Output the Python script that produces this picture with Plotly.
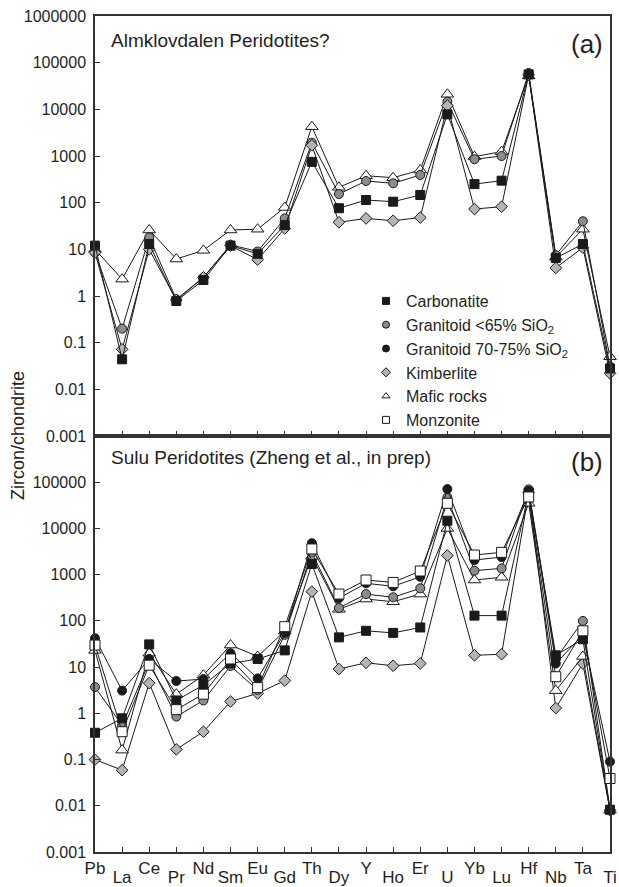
import plotly.graph_objects as go

elements = ["Pb", "La", "Ce", "Pr", "Nd", "Sm", "Eu", "Gd", "Th", "Dy",
            "Y", "Ho", "Er", "U", "Yb", "Lu", "Hf", "Nb", "Ta", "Ti"]

# Panel (a): Almklovdalen Peridotites?
carbonatite_a = [12, 0.044, 13, 0.78, 2.2, 12, 8, 33, 750, 76, 114, 105, 146, 7800, 250, 296, 56000, 6.5, 13, 0.028]
granitoid65_a = [8.5, 0.2, 18, 0.85, 2.5, 12.5, 9, 46, 1930, 153, 291, 260, 392, 14600, 850, 1000, 60000, 7.5, 40, 0.031]
kimberlite_a = [8.5, 0.072, 10, 0.82, 2.5, 12, 6, 28, 1700, 38, 46, 41, 48, 12000, 73, 82, 55000, 4.0, 10.9, 0.022]
mafic_a = [10, 2.3, 26, 6.2, 9.5, 26, 27, 79, 4250, 213, 378, 343, 500, 21000, 970, 1240, 52000, 6.8, 27, 0.05]

# Panel (b): Sulu Peridotites
carbonatite_b = [0.38, 0.78, 31, 1.9, 4.1, 12, 15, 23, 1700, 44, 61, 55, 72, 14700, 130, 130, 60000, 18, 40, 0.0082]
granitoid65_b = [3.7, 0.55, 13, 0.85, 1.9, 10.6, 3.2, 50, 3000, 190, 380, 324, 506, 47000, 1220, 1370, 70000, 15, 100, 0.0085]
granitoid70_b = [42, 3.1, 15, 5.0, 5.5, 20, 5.7, 55, 4800, 310, 650, 560, 900, 71000, 2070, 2400, 65000, 12, 50, 0.09]
kimberlite_b = [0.1, 0.059, 4.5, 0.166, 0.4, 1.8, 2.7, 5.1, 430, 9.1, 12.4, 10.7, 12, 2600, 18, 19, 60000, 1.3, 12, 0.008]
mafic_b = [23, 0.16, 20, 2.6, 6.7, 30, 17, 60, 2500, 178, 297, 260, 380, 10000, 766, 877, 35000, 3.1, 17, 0.008]
monzonite_b = [30, 0.4, 11, 1.2, 2.6, 15, 3.6, 75, 3600, 380, 766, 680, 1200, 35000, 2660, 3040, 48000, 6.2, 61, 0.039]

y_tickvals = [1e6, 1e5, 1e4, 1e3, 1e2, 10, 1, 0.1, 0.01, 0.001]
y_ticktext = ["1000000", "100000", "10000", "1000", "100", "10", "1", "0.1", "0.01", "0.001"]

FONT = "Liberation Sans, Arial, sans-serif"
TXT = "#231f20"
AX = "#333333"

styles = {
    "Carbonatite": dict(symbol="square", color="#1a1a1a", size=9),
    "Granitoid <65% SiO<sub>2</sub>": dict(symbol="circle", color="#8c8c8c", size=9),
    "Granitoid 70-75% SiO<sub>2</sub>": dict(symbol="circle", color="#1a1a1a", size=9),
    "Kimberlite": dict(symbol="diamond", color="#b4b4b4", size=9),
    "Mafic rocks": dict(symbol="triangle-up", color="#ffffff", size=11),
    "Monzonite": dict(symbol="square", color="#ffffff", size=10),
}

panel_a = [("Mafic rocks", mafic_a), ("Granitoid <65% SiO<sub>2</sub>", granitoid65_a),
           ("Kimberlite", kimberlite_a), ("Carbonatite", carbonatite_a)]
panel_b = [("Kimberlite", kimberlite_b), ("Mafic rocks", mafic_b),
           ("Granitoid <65% SiO<sub>2</sub>", granitoid65_b), ("Carbonatite", carbonatite_b),
           ("Granitoid 70-75% SiO<sub>2</sub>", granitoid70_b), ("Monzonite", monzonite_b)]

fig = go.Figure()


def add(name, vals, xa, ya):
    s = styles[name]
    fig.add_trace(go.Scatter(
        x=elements, y=vals, mode="lines+markers", xaxis=xa, yaxis=ya,
        line=dict(color="#1a1a1a", width=1),
        marker=dict(symbol=s["symbol"], color=s["color"], size=s["size"],
                    line=dict(color="#1a1a1a", width=1)),
        showlegend=False, cliponaxis=False, name=name))


for n, v in panel_a:
    add(n, v, "x", "y")
for n, v in panel_b:
    add(n, v, "x2", "y2")

# legend-only entries
for name, s in styles.items():
    fig.add_trace(go.Scatter(
        x=[None], y=[None], mode="markers", xaxis="x", yaxis="y", name=name,
        marker=dict(symbol=s["symbol"], color=s["color"], size=7,
                    line=dict(color="#1a1a1a", width=1))))

# dummy trace for staggered label axis
fig.add_trace(go.Scatter(x=elements, y=[None] * len(elements), xaxis="x3", yaxis="y2",
                         mode="markers", showlegend=False, hoverinfo="skip"))

even_txt = [e if i % 2 == 0 else "" for i, e in enumerate(elements)]
odd_txt = [e if i % 2 == 1 else "" for i, e in enumerate(elements)]

split = 416 / 836

xcommon = dict(type="category", categoryorder="array", categoryarray=elements,
               range=[0, len(elements) - 1], showgrid=False, zeroline=False,
               showline=True, linecolor=AX, linewidth=1.5, mirror=True,
               ticks="inside", ticklen=5, tickcolor=AX, tickwidth=1,
               tickvals=elements, automargin=False,
               tickfont=dict(family=FONT, size=17, color=TXT))

ycommon = dict(type="log", range=[-3, 6], showgrid=False, zeroline=False,
               showline=True, linecolor=AX, linewidth=1.5, mirror=True,
               ticks="inside", ticklen=5, tickcolor=AX, tickwidth=1, automargin=False,
               tickfont=dict(family=FONT, size=16, color=TXT), ticklabelstandoff=4)

fig.update_layout(
    width=619, height=887,
    margin=dict(l=95, r=9, t=16, b=35),
    paper_bgcolor="white", plot_bgcolor="white",
    font=dict(family=FONT, color=TXT),
    xaxis=dict(**xcommon, anchor="y", ticktext=[""] * len(elements)),
    yaxis=dict(**ycommon, domain=[split, 1], anchor="x",
               tickvals=y_tickvals, ticktext=y_ticktext),
    xaxis2=dict(**xcommon, anchor="y2", ticktext=even_txt, ticklabelstandoff=0),
    yaxis2=dict(**ycommon, domain=[0, split], anchor="x2",
                tickvals=y_tickvals[1:], ticktext=y_ticktext[1:]),
    xaxis3=dict(type="category", categoryorder="array", categoryarray=elements,
                range=[0, len(elements) - 1], overlaying="x2", anchor="y2", side="bottom",
                showline=False, showgrid=False, zeroline=False, ticks="", automargin=False,
                tickvals=elements, ticktext=odd_txt, ticklabelstandoff=13,
                tickfont=dict(family=FONT, size=17, color=TXT)),
    legend=dict(x=(366 - 95) / 515, y=(852 - 284) / 836, xanchor="left", yanchor="top",
                bgcolor="rgba(0,0,0,0)", font=dict(family=FONT, size=16, color=TXT),
                tracegroupgap=0, itemwidth=30),
    showlegend=True,
)


def P(px, py):
    return (px - 95) / 515, (852 - py) / 836


annots = [
    ("Almklovdalen Peridotites?", 109, 41, "left", 19),
    ("(a)", 605, 44, "right", 26),
    ("Sulu Peridotites (Zheng et al., in prep)", 109, 458, "left", 19),
    ("(b)", 605, 462, "right", 26),
]
for t, px, py, anc, fs in annots:
    xx, yy = P(px, py)
    fig.add_annotation(text=t, x=xx, y=yy, xref="paper", yref="paper",
                       xanchor=anc, yanchor="middle", showarrow=False,
                       font=dict(family=FONT, size=fs, color=TXT))

xx, yy = P(18, 436)
fig.add_annotation(text="Zircon/chondrite", x=xx, y=yy, xref="paper", yref="paper",
                   xanchor="center", yanchor="middle", showarrow=False, textangle=-90,
                   font=dict(family=FONT, size=18, color=TXT))

fig.write_html("out.html")
